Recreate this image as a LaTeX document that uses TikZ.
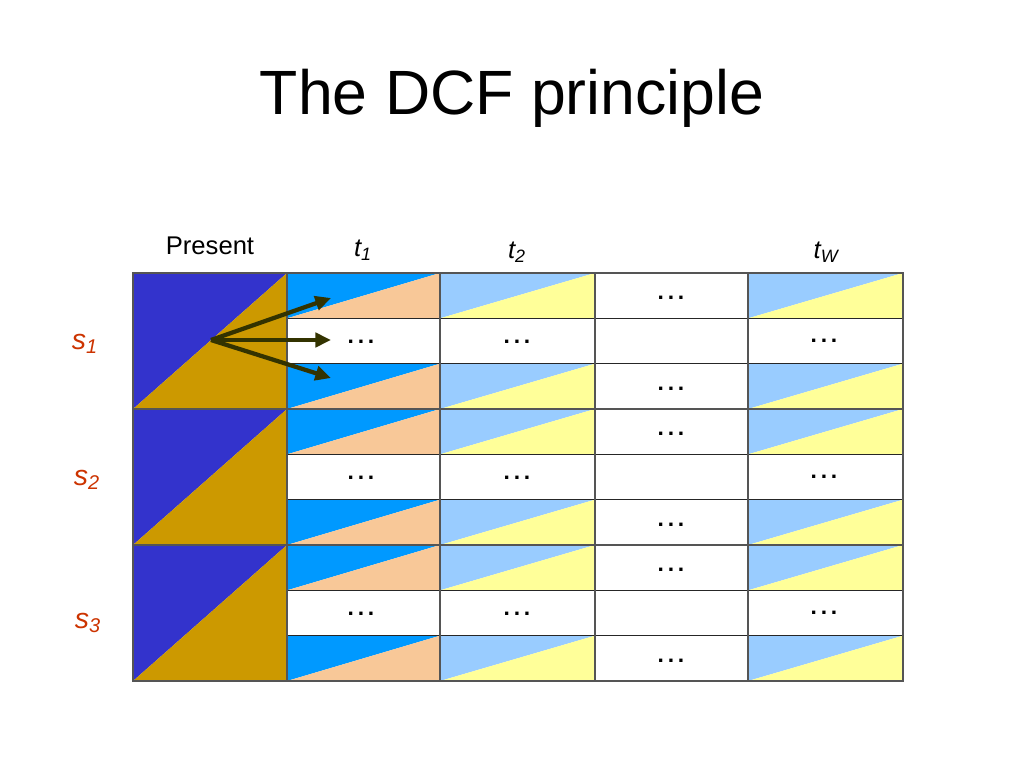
\documentclass[tikz,border=0pt]{standalone}
\usepackage{fontspec}
\setmainfont{Liberation Sans}
\usetikzlibrary{arrows.meta}
\definecolor{dblue}{HTML}{3333CC}
\definecolor{gold}{HTML}{CC9900}
\definecolor{bblue}{HTML}{0099FF}
\definecolor{peach}{HTML}{F8C898}
\definecolor{lblue}{HTML}{99CCFF}
\definecolor{lyellow}{HTML}{FFFF99}
\definecolor{arrowc}{HTML}{333300}
\definecolor{sred}{HTML}{CC3300}
\definecolor{gridc}{HTML}{555555}
\tikzset{
  lbl/.style={inner sep=0pt, font=\fontsize{18}{20}\selectfont},
  slbl/.style={inner sep=0pt, text=sred, font=\fontsize{20}{22}\selectfont\itshape},
  dots/.style={inner sep=0pt, font=\fontsize{16}{18}\selectfont\bfseries},
  gridline/.style={draw=gridc, line width=1pt},
  rowline/.style={draw=black!85, line width=1pt},
  arr/.style={draw=arrowc, line width=3pt, -{Triangle[length=11pt,width=10pt]}}
}
\begin{document}
\begin{tikzpicture}[x=0.703125pt,y=-0.703125pt]
\useasboundingbox (0,0) rectangle (1024,768);
\node[inner sep=0pt, font=\fontsize{44}{50}\selectfont] (title) at (512,98) {The DCF principle};
% present column
\foreach \b in {0,1,2} {
  \pgfmathsetmacro\ya{273+136*\b}
  \pgfmathsetmacro\yb{\ya+136}
  \fill[dblue] (133,\ya) -- (287,\ya) -- (133,\yb) -- cycle;
  \fill[gold] (287,\ya) -- (287,\yb) -- (133,\yb) -- cycle;
}
% time cells
\foreach \r in {0,...,8} {
  \pgfmathsetmacro\ya{273+136/3*\r}
  \pgfmathsetmacro\yb{\ya+136/3}
  \pgfmathtruncatemacro\m{mod(\r,3)}
  \ifnum\m=1
    \node[dots] (d1-\r) at (361,\ya+23) {.\,.\,.};
    \node[dots] (d2-\r) at (517,\ya+23) {.\,.\,.};
    \node[dots] (dw-\r) at (824,\ya+22) {.\,.\,.};
  \else
    \fill[bblue] (287,\ya) -- (440,\ya) -- (287,\yb) -- cycle;
    \fill[peach] (440,\ya) -- (440,\yb) -- (287,\yb) -- cycle;
    \fill[lblue] (440,\ya) -- (595,\ya) -- (440,\yb) -- cycle;
    \fill[lyellow] (595,\ya) -- (595,\yb) -- (440,\yb) -- cycle;
    \fill[lblue] (748,\ya) -- (903,\ya) -- (748,\yb) -- cycle;
    \fill[lyellow] (903,\ya) -- (903,\yb) -- (748,\yb) -- cycle;
    \node[dots] (d3-\r) at (671,\ya+25) {.\,.\,.};
  \fi
}
% grid lines
\foreach \r in {1,2,4,5,7,8} {
  \draw[rowline] (287,{273+136/3*\r}) -- (903,{273+136/3*\r});
}
\foreach \y in {409,545} {
  \draw[gridline] (133,\y) -- (903,\y);
}
\foreach \x in {287,440,595,748} {
  \draw[gridline] (\x,273) -- (\x,681);
}
\draw[gridline] (133,273) rectangle (903,681);
% header labels
\node[lbl] (present) at (210,246) {Present};
\node[lbl] (t1) at (363,250) {\textit{t\textsubscript{1}}};
\node[lbl] (t2) at (517,252) {\textit{t\textsubscript{2}}};
\node[lbl] (tw) at (826,252) {\textit{t\textsubscript{W}}};
% state labels
\node[slbl] (s1) at (85,344) {s\textsubscript{1}};
\node[slbl] (s2) at (87,480) {s\textsubscript{2}};
\node[slbl] (s3) at (88,623) {s\textsubscript{3}};
% arrows
\coordinate (o) at (211,340);
\coordinate (a1) at (331,298);
\coordinate (a2) at (331,340);
\coordinate (a3) at (331,378);
\draw[arr] (o) -- (a1);
\draw[arr] (o) -- (a2);
\draw[arr] (o) -- (a3);
\end{tikzpicture}
\end{document}
